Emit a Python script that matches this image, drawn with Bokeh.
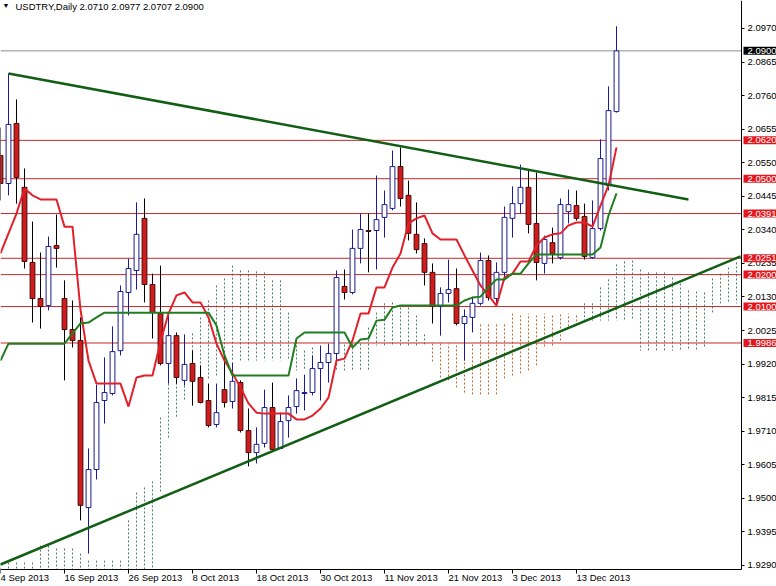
import numpy as np
from bokeh.plotting import figure
from bokeh.models import Range1d, LinearAxis, FixedTicker, Label, PrintfTickFormatter
from bokeh.embed import file_html
from bokeh.resources import INLINE

# ---------------- data ----------------
date_ticks = [0, 8, 16, 24, 32, 40, 48, 56, 64, 72]
date_labels = ["4 Sep 2013", "16 Sep 2013", "26 Sep 2013", "8 Oct 2013", "18 Oct 2013",
               "30 Oct 2013", "11 Nov 2013", "21 Nov 2013", "3 Dec 2013", "13 Dec 2013"]

open_ = [2.0573, 2.0485, 2.0673, 2.0473, 2.0238, 2.0125, 2.0103, 2.0291, 2.0125, 2.0028,
         1.9994, 1.9471, 1.9590, 1.9806, 1.9828, 1.9962, 2.0144, 2.0213, 2.0376, 2.0169,
         2.0078, 1.9922, 2.0009, 1.9869, 1.9922, 1.9878, 1.9806, 1.9731, 1.9840, 1.9803,
         1.9862, 1.9712, 1.9643, 1.9672, 1.9784, 1.9656, 1.9743, 1.9787, 1.9828, 1.9831,
         1.9906, 1.9925, 1.9953, 2.0163, 2.0144, 2.0282, 2.0338, 2.0338, 2.0379, 2.0407,
         2.0538, 2.0448, 2.0326, 2.0297, 2.0207, 2.0100, 2.0141, 2.0156, 2.0047, 2.0066,
         2.0110, 2.0244, 2.0125, 2.0207, 2.0376, 2.0422, 2.0473, 2.0360, 2.0235, 2.0300,
         2.0253, 2.0397, 2.0416, 2.0382, 2.0253, 2.0344, 2.0479, 2.0710]
high = [2.0660, 2.0829, 2.0748, 2.0532, 2.0366, 2.0269, 2.0319, 2.0388, 2.0182, 2.0119,
        2.0066, 1.9656, 1.9856, 1.9941, 2.0038, 2.0166, 2.0250, 2.0426, 2.0438, 2.0203,
        2.0228, 2.0072, 2.0019, 2.0013, 1.9962, 1.9916, 1.9859, 1.9859, 1.9944, 1.9925,
        1.9869, 1.9781, 1.9722, 1.9840, 1.9862, 1.9768, 1.9822, 1.9875, 1.9887, 1.9947,
        1.9978, 1.9984, 2.0213, 2.0216, 2.0341, 2.0391, 2.0391, 2.0510, 2.0463, 2.0588,
        2.0598, 2.0494, 2.0426, 2.0313, 2.0235, 2.0160, 2.0247, 2.0219, 2.0091, 2.0131,
        2.0269, 2.0260, 2.0238, 2.0413, 2.0476, 2.0544, 2.0526, 2.0519, 2.0322, 2.0347,
        2.0438, 2.0466, 2.0463, 2.0422, 2.0432, 2.0623, 2.0789, 2.0977]
low = [2.0432, 2.0448, 2.0422, 2.0219, 2.0050, 2.0031, 2.0088, 2.0222, 1.9869, 1.9972,
       1.9431, 1.9327, 1.9559, 1.9734, 1.9822, 1.9947, 2.0072, 2.0153, 2.0113, 2.0000,
       1.9916, 1.9859, 1.9859, 1.9853, 1.9790, 1.9797, 1.9722, 1.9722, 1.9784, 1.9781,
       1.9706, 1.9600, 1.9609, 1.9659, 1.9650, 1.9656, 1.9690, 1.9765, 1.9775, 1.9822,
       1.9806, 1.9862, 1.9931, 2.0122, 2.0138, 2.0235, 2.0207, 2.0216, 2.0316, 2.0401,
       2.0413, 2.0307, 2.0266, 2.0166, 2.0047, 2.0009, 2.0113, 2.0041, 1.9931, 2.0019,
       2.0103, 2.0119, 2.0103, 2.0182, 2.0316, 2.0391, 2.0329, 2.0182, 2.0203, 2.0235,
       2.0247, 2.0360, 2.0369, 2.0247, 2.0250, 2.0338, 2.0463, 2.0707]
close = [2.0485, 2.0670, 2.0504, 2.0241, 2.0125, 2.0100, 2.0288, 2.0282, 2.0028, 1.9994,
         1.9478, 1.9590, 1.9800, 1.9831, 1.9959, 2.0147, 2.0219, 2.0326, 2.0169, 2.0081,
         1.9922, 2.0009, 1.9878, 1.9919, 1.9866, 1.9800, 1.9728, 1.9768, 1.9800, 1.9866,
         1.9712, 1.9643, 1.9669, 1.9784, 1.9653, 1.9740, 1.9784, 1.9837, 1.9831, 1.9906,
         1.9925, 1.9953, 2.0191, 2.0144, 2.0282, 2.0341, 2.0335, 2.0372, 2.0419, 2.0538,
         2.0438, 2.0329, 2.0278, 2.0207, 2.0100, 2.0141, 2.0153, 2.0047, 2.0069, 2.0110,
         2.0244, 2.0128, 2.0207, 2.0379, 2.0422, 2.0473, 2.0357, 2.0238, 2.0310, 2.0266,
         2.0419, 2.0419, 2.0376, 2.0257, 2.0344, 2.0563, 2.0713, 2.0900]

tenkan = [2.0266, 2.0329, 2.0391, 2.0469, 2.0448, 2.0435, 2.0435, 2.0435, 2.0350, 2.0350,
          2.0090, 1.9931, 1.9859, 1.9859, 1.9859, 1.9859, 1.9787, 1.9878, 1.9884, 1.9884,
          1.9990, 2.0078, 2.0135, 2.0144, 2.0113, 2.0113, 2.0066, 1.9984, 1.9931, 1.9891,
          1.9847, 1.9797, 1.9768, 1.9765, 1.9765, 1.9765, 1.9765, 1.9747, 1.9747, 1.9759,
          1.9781, 1.9815, 1.9931, 1.9937, 1.9994, 2.0078, 2.0078, 2.0160, 2.0160, 2.0222,
          2.0266, 2.0360, 2.0376, 2.0385, 2.0329, 2.0310, 2.0310, 2.0310, 2.0260, 2.0213,
          2.0166, 2.0135, 2.0103, 2.0191, 2.0203, 2.0241, 2.0241, 2.0291, 2.0316, 2.0326,
          2.0329, 2.0354, 2.0363, 2.0363, 2.0350, 2.0416, 2.0479, 2.0598]
kijun = [1.9931, 1.9984, 1.9984, 1.9984, 1.9984, 1.9984, 1.9984, 1.9984, 1.9984, 2.0016,
         2.0047, 2.0050, 2.0066, 2.0081, 2.0081, 2.0081, 2.0081, 2.0081, 2.0081, 2.0081,
         2.0081, 2.0081, 2.0081, 2.0081, 2.0081, 2.0081, 2.0081, 2.0041, 1.9947, 1.9884,
         1.9884, 1.9884, 1.9884, 1.9884, 1.9884, 1.9884, 1.9884, 2.0000, 2.0019, 2.0019,
         2.0019, 2.0019, 2.0019, 2.0019, 1.9972, 1.9997, 2.0000, 2.0056, 2.0059, 2.0097,
         2.0103, 2.0103, 2.0103, 2.0103, 2.0103, 2.0103, 2.0103, 2.0103, 2.0119, 2.0128,
         2.0131, 2.0160, 2.0185, 2.0185, 2.0203, 2.0203, 2.0235, 2.0263, 2.0263, 2.0263,
         2.0263, 2.0263, 2.0263, 2.0263, 2.0263, 2.0285, 2.0385, 2.0454]

span_a = [1.9296, 1.9299, 1.9299, 1.9299, 1.9299, 1.9352, 1.9352, 1.9343, 1.9343, 1.9343,
          1.9327, 1.9305, 1.9305, 1.9305, 1.9305, 1.9305, 1.9431, 1.9518, 1.9534, 1.9553,
          1.9753, 1.9859, 1.9962, 1.9978, 2.0016, 2.0066, 2.0119, 2.0166, 2.0188, 2.0228,
          2.0213, 2.0213, 2.0210, 2.0207, 2.0182, 2.0182, 2.0081, 1.9991, 1.9962, 1.9972,
          1.9972, 1.9972, 1.9934, 1.9981, 1.9984, 1.9984, 2.0034, 2.0081, 2.0110, 2.0113,
          2.0097, 2.0097, 2.0072, 2.0013, 1.9928, 1.9878, 1.9869, 1.9847, 1.9831, 1.9825,
          1.9825, 1.9825, 1.9825, 1.9875, 1.9884, 1.9891, 1.9900, 1.9916, 1.9975, 1.9978,
          1.9994, 2.0038, 2.0041, 2.0110, 2.0110, 2.0160, 2.0185, 2.0232, 2.0241, 2.0244,
          2.0216, 2.0207, 2.0207, 2.0207, 2.0191, 2.0172, 2.0150, 2.0147, 2.0144, 2.0188,
          2.0203, 2.0222, 2.0238]
span_b = [1.9240] * 20 + [
          1.9515, 1.9690, 1.9753, 1.9806, 1.9806, 1.9837, 1.9869, 1.9884, 1.9931, 1.9931,
          1.9931, 1.9931, 1.9931, 1.9931, 1.9931, 1.9931, 1.9931, 1.9900, 1.9900, 1.9900,
          1.9900, 1.9900, 1.9900, 1.9900, 1.9900, 1.9900, 1.9900, 1.9978, 1.9978, 1.9978,
          1.9978, 1.9978, 1.9978, 1.9978, 1.9984, 1.9984, 1.9984, 1.9984, 1.9984, 1.9984,
          2.0047, 2.0047, 2.0047, 2.0047, 2.0078, 2.0078, 2.0078, 2.0078, 2.0078, 2.0078,
          2.0078, 2.0078, 2.0078, 2.0056, 2.0056, 2.0056, 2.0056, 2.0056, 2.0056, 2.0056,
          1.9962, 1.9962, 1.9962, 1.9962, 1.9962, 1.9962, 1.9962, 1.9962, 1.9972, 2.0078,
          2.0110, 2.0110, 2.0110]

levels = [2.0620, 2.0500, 2.0391, 2.0251, 2.0200, 2.0100, 1.9986]
last_price = 2.0900
price_ticks = [2.0970, 2.0865, 2.0760, 2.0655, 2.0550, 2.0445, 2.0340, 2.0235, 2.0130,
               2.0025, 1.9920, 1.9815, 1.9710, 1.9605, 1.9500, 1.9395, 1.9290]

trend_down_x = [1, 86]
trend_down_y = [2.0829, 2.0435]
trend_up_x = [0, 92.5]
trend_up_y = [1.9293, 2.0257]

title_text = "USDTRY,Daily  2.0710 2.0977 2.0707 2.0900"

# ---------------- styles / geometry ----------------
FONT = "Liberation Sans"
BULL = "#1b1b95"
BEAR = "#d01c1c"
BEAR_EDGE = "#4a0808"
TENKAN = "#e3202a"
KIJUN = "#207d20"
TREND = "#125e14"
LEVEL = "#c42a2a"
TAG_RED = "#e3161c"
CLOUD_G = "#4f806c"
CLOUD_O = "#c0672e"
X_LO, X_HI = 0, 97            # whole canvas in bar units
Y_LO, Y_HI = 1.92241, 2.10576  # whole canvas in price units
X_AXIS_AT = 92.625             # price scale position (bar units)
Y_AXIS_AT = 1.92773            # time scale position (price units)

p = figure(width=776, height=586, output_backend="svg", toolbar_location=None,
           x_range=Range1d(X_LO, X_HI), y_range=Range1d(Y_LO, Y_HI),
           x_axis_location=None, y_axis_location=None,
           min_border_left=0, min_border_top=0, min_border_right=0, min_border_bottom=0,
           background_fill_color="white", border_fill_color="white")
p.outline_line_color = None
p.xgrid.visible = False
p.ygrid.visible = False

# Ichimoku cloud hatching
sa = np.clip(np.array(span_a), Y_AXIS_AT, None)
sb = np.clip(np.array(span_b), Y_AXIS_AT, None)
ci = np.arange(len(sa))
g = sa >= sb
p.segment(ci[g], sa[g], ci[g], sb[g], line_color=CLOUD_G, line_width=1, line_dash="2 2")
p.segment(ci[~g], sa[~g], ci[~g], sb[~g], line_color=CLOUD_O, line_width=1, line_dash="2 2")

# horizontal levels (stop at the price scale)
nl = len(levels)
p.segment([X_LO] * nl, levels, [X_AXIS_AT] * nl, levels, line_color=LEVEL, line_width=1)
p.segment([X_LO], [last_price], [X_AXIS_AT], [last_price], line_color="#8f8f8f", line_width=1)

# candles
o = np.array(open_); c = np.array(close); h = np.array(high); l = np.array(low)
idx = np.arange(len(c))
up = c >= o
p.segment(idx[up], h[up], idx[up], l[up], line_color=BULL, line_width=1)
p.segment(idx[~up], h[~up], idx[~up], l[~up], line_color="black", line_width=1)
p.vbar(x=idx[up], width=0.6, top=c[up], bottom=o[up], fill_color="white", line_color=BULL, line_width=1)
p.vbar(x=idx[~up], width=0.6, top=o[~up], bottom=c[~up], fill_color=BEAR, line_color=BEAR_EDGE, line_width=1)

# Ichimoku lines
p.line(idx, tenkan, line_color=TENKAN, line_width=2)
p.line(idx, kijun, line_color=KIJUN, line_width=2)

# trendlines
p.line(trend_down_x, trend_down_y, line_color=TREND, line_width=2.5)
p.line(trend_up_x, trend_up_y, line_color=TREND, line_width=2.5)

# axes (drawn at fixed positions, like the MT4 price / time scales)
yaxis = LinearAxis(ticker=FixedTicker(ticks=price_ticks), formatter=PrintfTickFormatter(format="%.4f"),
                   fixed_location=X_AXIS_AT, bounds=(Y_AXIS_AT, Y_HI))
yaxis.axis_line_color = "black"
yaxis.major_tick_in = 0
yaxis.major_tick_out = 3
yaxis.minor_tick_line_color = None
yaxis.major_label_standoff = 3
yaxis.major_label_text_font = FONT
yaxis.major_label_text_font_size = "9.5px"
yaxis.major_label_text_color = "black"
p.add_layout(yaxis, "right")

xaxis = LinearAxis(ticker=FixedTicker(ticks=date_ticks),
                   major_label_overrides={t: s for t, s in zip(date_ticks, date_labels)},
                   fixed_location=Y_AXIS_AT, bounds=(X_LO, X_AXIS_AT))
xaxis.axis_line_color = "black"
xaxis.major_tick_in = 0
xaxis.major_tick_out = 4
xaxis.minor_tick_line_color = None
xaxis.major_label_standoff = 4
xaxis.major_label_orientation = -0.0001
xaxis.major_label_text_font = FONT
xaxis.major_label_text_font_size = "9.5px"
xaxis.major_label_text_color = "black"
p.add_layout(xaxis, "below")

# price tags on the scale
TAG_PAD = dict(left=4, right=2, top=1, bottom=1)

def tag(val, color):
    p.add_layout(Label(x=X_AXIS_AT, y=val, x_offset=2, text=f"{val:.4f}", text_align="left",
                       text_baseline="middle", text_color="white", text_font=FONT,
                       text_font_size="9.5px", background_fill_color=color, padding=TAG_PAD))

for lv in levels:
    tag(lv, TAG_RED)
tag(last_price, "black")

# title
p.add_layout(Label(x=X_LO, y=Y_HI - 0.0004, x_offset=2, text="\u25BC", text_align="left",
                   text_baseline="top", text_color="black", text_font_size="7px"))
p.add_layout(Label(x=X_LO, y=Y_HI - 0.0003, x_offset=15, text=title_text, text_align="left",
                   text_baseline="top", text_color="black", text_font=FONT,
                   text_font_size="9.5px"))

open("out.html", "w").write(file_html(p, INLINE))
